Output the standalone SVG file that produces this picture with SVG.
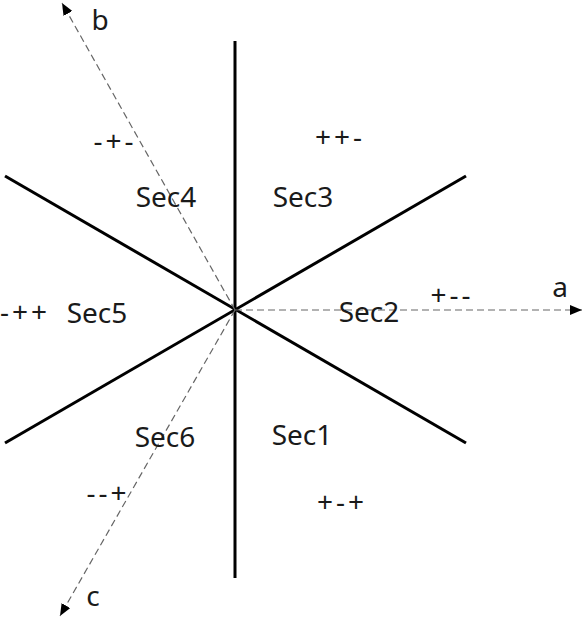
<svg xmlns="http://www.w3.org/2000/svg" width="583" height="619" viewBox="0 0 583 619">
<style>
.thick{stroke:#000;stroke-width:3;fill:none;stroke-linecap:butt}
.axis{stroke:#666;stroke-width:1.2;stroke-dasharray:7 4;fill:none}
text{font-family:"Noto Sans","DejaVu Sans",sans-serif;font-size:28px;fill:#1a1a1a;text-anchor:middle}
.sg{letter-spacing:3px}
</style>
<defs>
<marker id="arr" markerUnits="userSpaceOnUse" markerWidth="14" markerHeight="10" refX="12" refY="5" orient="auto">
<path d="M0,0 L12,5 L0,10 Z" fill="#000"/>
</marker>
</defs>
<rect width="583" height="619" fill="#fff"/>
<g id="connectors">
<line class="thick" x1="235" y1="41" x2="235" y2="578"/>
<line class="thick" x1="5" y1="176" x2="466" y2="443"/>
<line class="thick" x1="5" y1="443" x2="466" y2="176"/>
<line class="axis" x1="235" y1="310" x2="582" y2="310" marker-end="url(#arr)"/>
<line class="axis" x1="235" y1="310" x2="62" y2="3" marker-end="url(#arr)"/>
<line class="axis" x1="235" y1="310" x2="60" y2="616" marker-end="url(#arr)"/>
</g>
<g id="axis-labels">
<text x="560" y="297">a</text>
<text x="100" y="30">b</text>
<text x="93" y="606">c</text>
</g>
<g id="sec1"><text x="302" y="445">Sec1</text><text class="sg" x="342" y="512">+-+</text></g>
<g id="sec2"><text x="369" y="322">Sec2</text><text class="sg" x="452" y="305">+--</text></g>
<g id="sec3"><text x="303" y="207">Sec3</text><text class="sg" x="340" y="147">++-</text></g>
<g id="sec4"><text x="166" y="207">Sec4</text><text class="sg" x="115" y="151">-+-</text></g>
<g id="sec5"><text x="97" y="323">Sec5</text><text class="sg" x="25" y="322">-++</text></g>
<g id="sec6"><text x="165" y="447">Sec6</text><text class="sg" x="108" y="503">--+</text></g>
</svg>
